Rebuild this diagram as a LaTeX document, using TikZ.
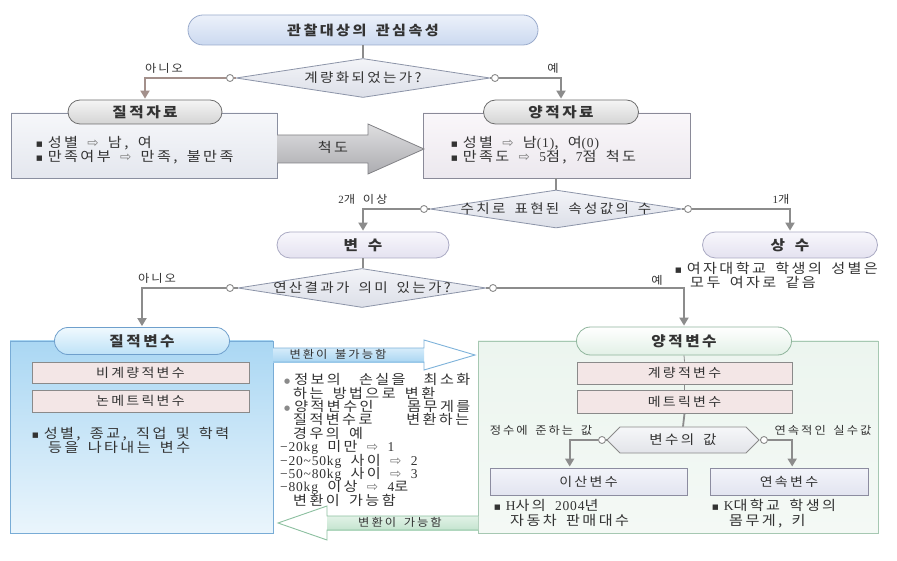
\documentclass[tikz,border=0pt]{standalone}
\usepackage{fontspec}
\setmainfont{Noto Sans CJK KR}[LetterSpace=18,FakeStretch=1.12,WordSpace=1.6]
\newfontfamily\fdv{DejaVu Sans}
\newfontfamily\fser{Liberation Serif}[LetterSpace=6]
\usetikzlibrary{shapes.geometric,shapes.symbols,calc,arrows.meta}
\definecolor{txtc}{HTML}{333333}
\definecolor{linec}{HTML}{8C8C8C}
\definecolor{brnc}{HTML}{A3908B}
\definecolor{arrc}{HTML}{7A7A7A}
\definecolor{ballc}{HTML}{8A8A8A}
\definecolor{diab}{HTML}{8C94A8}
\definecolor{diat}{HTML}{F3F4F8}
\definecolor{diabot}{HTML}{DCDFE8}
\definecolor{inb}{HTML}{8A8A8A}
\definecolor{inf}{HTML}{F3E6E6}
\definecolor{lavb}{HTML}{8C8CA0}
\definecolor{lavt}{HTML}{F3F4FA}
\definecolor{lavbot}{HTML}{E2E4F0}
\newcommand\sqb{{\fdv\fontsize{7}{7}\selectfont\raisebox{0.8pt}{■}}\hspace{5pt}}
\newcommand\rar{{\fdv\fontsize{13.5}{13}\selectfont\color{arrc}⇨}}
\newcommand\bul{{\fdv\color{ballc}\fontsize{7}{7}\selectfont\raisebox{1pt}{●}}\hspace{4pt}}
\newcommand\sr[1]{{\fser #1}}
\begin{document}
\begin{tikzpicture}[x=1pt,y=-1pt,
  tx/.style={inner sep=0pt,text=txtc,font=\fontsize{13.5}{13.4}\selectfont,text height=10pt,text depth=2.5pt},
  sm/.style={inner sep=0pt,text=txtc,font=\fontsize{11}{11}\selectfont,text height=8pt,text depth=2pt},
  pillbase/.style={rectangle,line width=0.8pt,inner sep=0pt,text=txtc,font=\fontsize{14}{14}\selectfont\bfseries},
  conn/.style={draw=linec,line width=1.8pt},
  arr/.style={conn,-{Triangle[length=8pt,width=9pt]},shorten >=1pt},
  dot/.style={circle,draw=linec,fill=white,line width=0.9pt,minimum size=7pt,inner sep=0pt},
  dia/.style={diamond,aspect=6.5,inner sep=0pt,draw=diab,line width=0.8pt,top color=diat,bottom color=diabot},
  diatext/.style={inner sep=0pt,text=txtc,font=\fontsize{13}{13}\selectfont},
  inbox/.style={rectangle,draw=inb,line width=0.9pt,fill=inf,inner sep=0pt,text=txtc,font=\fontsize{12.5}{13}\selectfont},
  lavbox/.style={rectangle,draw=lavb,line width=0.9pt,top color=lavt,bottom color=lavbot,inner sep=0pt,text=txtc,font=\fontsize{12.5}{13}\selectfont},
]
\useasboundingbox[fill=white] (0,0) rectangle (897,561);

% ---- top
\node[pillbase,rounded corners=15pt,minimum width=350pt,minimum height=30pt,draw={rgb,255:red,154;green,171;blue,204},top color={rgb,255:red,236;green,241;blue,250},bottom color={rgb,255:red,203;green,217;blue,240},font=\fontsize{13.5}{14}\selectfont\bfseries] (top) at (363,30) {관찰대상의 관심속성};
\node[dia,minimum width=254pt,minimum height=39pt] (d1) at (363,78) {};
\node[diatext] (d1t) at (d1.center) {계량화되었는가?};
\draw[conn] (top.south) -- (d1.north);
\node[dot] (c1l) at (230,78) {};
\node[dot] (c1r) at (495,78) {};

% ---- 질적자료
\node[rectangle,draw={rgb,255:red,138;green,143;blue,160},line width=0.9pt,top color={rgb,255:red,246;green,247;blue,250},bottom color={rgb,255:red,228;green,231;blue,238},minimum width=266pt,minimum height=65pt] (jjbox) at (144,145.5) {};
\node[pillbase,rounded corners=12pt,minimum width=154pt,minimum height=24pt,draw={rgb,255:red,110;green,110;blue,110},top color={rgb,255:red,245;green,245;blue,245},bottom color={rgb,255:red,212;green,212;blue,212}] (jj) at (145,112) {질적자료};
\node[tx,anchor=west] (jt1) at (36,144) {\sqb 성별 \rar{} 남, 여};
\node[tx,anchor=west] (jt2) at (36,158) {\sqb 만족여부 \rar{} 만족, 불만족};

% ---- 양적자료
\node[rectangle,draw={rgb,255:red,138;green,138;blue,152},line width=0.9pt,top color={rgb,255:red,250;green,247;blue,250},bottom color={rgb,255:red,236;green,232;blue,238},minimum width=267pt,minimum height=65pt] (yjbox) at (556.5,145.5) {};
\node[pillbase,rounded corners=12pt,minimum width=155pt,minimum height=24pt,draw={rgb,255:red,110;green,110;blue,110},top color={rgb,255:red,245;green,245;blue,245},bottom color={rgb,255:red,212;green,212;blue,212}] (yj) at (561,112) {양적자료};
\node[tx,anchor=west] (yt1) at (451,144) {\sqb 성별 \rar{} 남\sr{(1)}, 여\sr{(0)}};
\node[tx,anchor=west] (yt2) at (451,158) {\sqb 만족도 \rar{} \sr{5}점, \sr{7}점 척도};

\draw[conn,draw=brnc] (d1.west) -- (c1l.east);
\draw[arr,draw=brnc] (c1l.west) -| (jj.north);
\draw[conn] (d1.east) -- (c1r.west);
\draw[arr] (c1r.east) -| (yj.north);
\node[sm] (l1) at (164,70) {아니오};
\node[sm] (l2) at (553,70) {예};

% ---- 척도 arrow
\shade[top color={rgb,255:red,222;green,222;blue,224},bottom color={rgb,255:red,172;green,172;blue,176}]
  (277,135) -- (368,135) -- (368,124) -- (424,149) -- (368,174) -- (368,163) -- (277,163) -- cycle;
\draw[draw={rgb,255:red,130;green,130;blue,134},line width=0.8pt]
  (277,135) -- (368,135) -- (368,124) -- (424,149) -- (368,174) -- (368,163) -- (277,163);
\node[tx] (cheok) at (333,149) {척도};

% ---- diamond 2
\node[dia,minimum width=252pt,minimum height=38pt] (d2) at (556,209) {};
\node[diatext] (d2t) at (d2.center) {수치로 표현된 속성값의 수};
\draw[conn] (yjbox.south -| d2.north) -- (d2.north);
\node[dot] (c2l) at (424,209) {};
\node[dot] (c2r) at (688,209) {};
\draw[conn] (d2.west) -- (c2l.east);
\draw[conn] (d2.east) -- (c2r.west);

\node[pillbase,rounded corners=13pt,minimum width=172pt,minimum height=26pt,draw={rgb,255:red,170;green,170;blue,195},top color={rgb,255:red,248;green,247;blue,252},bottom color={rgb,255:red,228;green,226;blue,240}] (bs) at (363,245) {변 수};
\node[pillbase,rounded corners=13pt,minimum width=175pt,minimum height=26pt,draw={rgb,255:red,170;green,170;blue,195},top color={rgb,255:red,248;green,247;blue,252},bottom color={rgb,255:red,228;green,226;blue,240}] (ss) at (790,245) {상 수};
\draw[arr] (c2l.west) -| (bs.north);
\draw[arr] (c2r.east) -| (ss.north);
\node[sm] (l3) at (363,201) {\sr{2}개 이상};
\node[sm] (l4) at (781,201) {\sr{1}개};
\node[tx,anchor=west] (st1) at (675,270) {\sqb 여자대학교 학생의 성별은};
\node[tx,anchor=west] (st2) at (690,284) {모두 여자로 같음};

% ---- diamond 3
\node[dia,minimum width=248pt,minimum height=39pt] (d3) at (362,288) {};
\node[diatext] (d3t) at (d3.center) {연산결과가 의미 있는가?};
\draw[conn] (bs.south) -- (d3.north -| bs.south);
\node[dot] (c3l) at (230,288) {};
\node[dot] (c3r) at (493,288) {};
\draw[conn] (d3.west) -- (c3l.east);
\draw[conn] (d3.east) -- (c3r.west);
\node[sm] (l5) at (157,280) {아니오};
\node[sm] (l6) at (657,282) {예};

% ---- 질적변수
\node[rectangle,draw={rgb,255:red,120;green,172;blue,214},line width=0.9pt,top color={rgb,255:red,170;green,215;blue,243},bottom color={rgb,255:red,234;green,245;blue,252},minimum width=263pt,minimum height=192pt] (jvf) at (141.5,437) {};
\node[pillbase,rounded corners=13.5pt,minimum width=175pt,minimum height=27pt,draw={rgb,255:red,110;green,159;blue,204},top color={rgb,255:red,240;green,249;blue,254},bottom color={rgb,255:red,190;green,226;blue,247}] (jv) at (142,341) {질적변수};
\node[inbox,minimum width=217pt,minimum height=21pt] (nb1) at (140.5,372.5) {비계량적변수};
\node[inbox,minimum width=217pt,minimum height=22pt] (nb2) at (140.5,401) {논메트릭변수};
\node[tx,anchor=west] (jvt1) at (32,435) {\sqb 성별, 종교, 직업 및 학력};
\node[tx,anchor=west] (jvt2) at (48,449) {등을 나타내는 변수};

% ---- 양적변수
\node[rectangle,draw={rgb,255:red,166;green,200;blue,178},line width=0.9pt,top color={rgb,255:red,236;green,245;blue,239},bottom color={rgb,255:red,244;green,249;blue,245},minimum width=400pt,minimum height=192pt] (yvf) at (678,437) {};
\node[pillbase,rounded corners=14pt,minimum width=215pt,minimum height=28pt,draw={rgb,255:red,143;green,181;blue,156},top color=white,bottom color={rgb,255:red,226;green,240;blue,230}] (yv) at (684,341) {양적변수};
\node[inbox,minimum width=215pt,minimum height=22pt] (gb1) at (684.5,373) {계량적변수};
\node[inbox,minimum width=215pt,minimum height=23pt] (gb2) at (684.5,401.5) {메트릭변수};
\draw[draw=linec,line width=0.8pt] (yv.south) -- (gb1.north);
\draw[draw=linec,line width=0.8pt] (gb1.south) -- (gb2.north);
\draw[arr] (c3l.west) -| (jv.north);
\draw[arr] (c3r.east) -| (yv.north);

\node[signal,signal to=west and east,signal pointer angle=90,minimum width=152pt,minimum height=26pt,inner sep=0pt,draw=inb,line width=0.8pt,top color={rgb,255:red,246;green,247;blue,249},bottom color={rgb,255:red,226;green,228;blue,233},text=txtc,font=\fontsize{13}{13}\selectfont] (hx) at (683,440) {변수의 값};
\draw[conn] (gb2.south) -- (hx.north);
\node[dot] (c4l) at (602,440) {};
\node[dot] (c4r) at (764,440) {};
\draw[conn] (hx.west) -- (c4l.east);
\draw[conn] (hx.east) -- (c4r.west);
\node[lavbox,minimum width=197pt,minimum height=27pt] (isan) at (588.5,481.5) {이산변수};
\node[lavbox,minimum width=158pt,minimum height=27pt] (yeon) at (789,481.5) {연속변수};
\draw[arr] (c4l.west) -| ($(isan.north west)!0.405!(isan.north east)$);
\draw[arr] (c4r.east) -| ($(yeon.north west)!0.52!(yeon.north east)$);
\node[sm] (l7) at (541,431) {정수에 준하는 값};
\node[sm] (l8) at (823,431) {연속적인 실수값};
\node[tx,anchor=west] (it1) at (494,507) {\sqb \sr{H}사의 \sr{2004}년};
\node[tx,anchor=west] (it2) at (510,522) {자동차 판매대수};
\node[tx,anchor=west] (yt3) at (712,507) {\sqb \sr{K}대학교 학생의};
\node[tx,anchor=west] (yt4) at (729,522) {몸무게, 키};

% ---- transform arrows
\fill[white] (273,348) -- (424,348) -- (424,340) -- (475,355) -- (424,370) -- (424,362) -- (273,362) -- cycle;
\shade[top color={rgb,255:red,214;green,236;blue,250},bottom color={rgb,255:red,170;green,214;blue,242}] (273,348) rectangle (424,362);
\draw[draw={rgb,255:red,125;green,178;blue,218},line width=0.9pt] (273,348) -- (424,348) -- (424,340) -- (475,355) -- (424,370) -- (424,362) -- (273,362);
\node[sm] (a1) at (338,355) {변환이 불가능함};

\fill[white] (478,516) -- (327,516) -- (327,506) -- (278,523) -- (327,540) -- (327,530) -- (478,530) -- cycle;
\shade[top color={rgb,255:red,226;green,242;blue,231},bottom color={rgb,255:red,196;green,228;blue,207}] (478,516) rectangle (327,530);
\draw[draw={rgb,255:red,140;green,192;blue,160},line width=0.9pt] (478,516) -- (327,516) -- (327,506) -- (278,523) -- (327,540) -- (327,530) -- (478,530);
\node[sm] (a2) at (400,523) {변환이 가능함};

% ---- middle text
\node[tx,anchor=west] (m1) at (284,381) {\bul\makebox[176pt][s]{정보의 손실을 최소화}};
\node[tx,anchor=west] (m2) at (293,394.4) {하는 방법으로 변환};
\node[tx,anchor=west] (m3) at (284,407.8) {\bul\makebox[176pt][s]{양적변수인 몸무게를}};
\node[tx,anchor=west] (m4) at (293,421.2) {\makebox[176pt][s]{질적변수로 변환하는}};
\node[tx,anchor=west] (m5) at (293,434.6) {경우의 예};
\node[tx,anchor=west] (m6) at (280,448) {\sr{−20kg} 미만 \rar{} \sr{1}};
\node[tx,anchor=west] (m7) at (280,461.4) {\sr{−20\textasciitilde 50kg} 사이 \rar{} \sr{2}};
\node[tx,anchor=west] (m8) at (280,474.8) {\sr{−50\textasciitilde 80kg} 사이 \rar{} \sr{3}};
\node[tx,anchor=west] (m9) at (280,488.2) {\sr{−80kg} 이상 \rar{} \sr{4}로};
\node[tx,anchor=west] (m10) at (293,501.6) {변환이 가능함};
\end{tikzpicture}
\end{document}
